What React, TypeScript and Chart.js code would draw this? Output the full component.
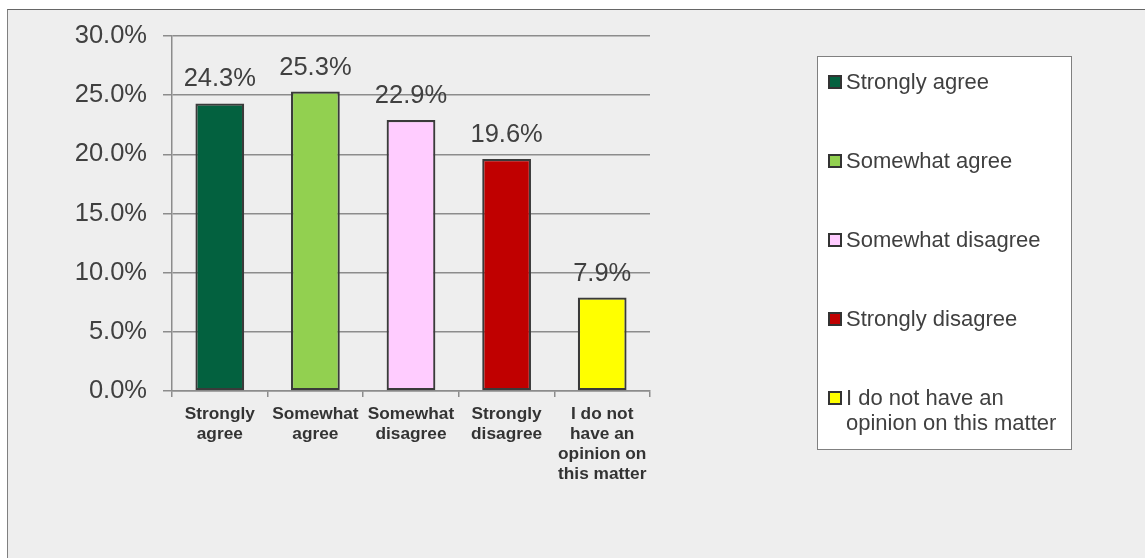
import React, { useEffect, useRef } from 'react';
import { Chart, registerables } from 'chart.js';

Chart.register(...registerables);

const categories: string[][] = [
  ['Strongly', 'agree'],
  ['Somewhat', 'agree'],
  ['Somewhat', 'disagree'],
  ['Strongly', 'disagree'],
  ['I do not', 'have an', 'opinion on', 'this matter'],
];
const legendLines: string[][] = [
  ['Strongly agree'],
  ['Somewhat agree'],
  ['Somewhat disagree'],
  ['Strongly disagree'],
  ['I do not have an', 'opinion on this matter'],
];
const values: number[] = [24.3, 25.3, 22.9, 19.6, 7.9];
const barColors: string[] = ['#03613F', '#92D050', '#FFCCFF', '#C00000', '#FFFF00'];
const yMin = 0;
const yMax = 30;
const yStep = 5;

const FONT = '"Liberation Sans", Arial, Helvetica, sans-serif';
const TEXT = '#404040';
const GRID = '#8c8c8c';

const valueLabelPlugin = {
  id: 'valueLabels',
  afterDatasetsDraw(chart: any) {
    const ctx = chart.ctx;
    const meta = chart.getDatasetMeta(0);
    ctx.save();
    ctx.font = `25.5px ${FONT}`;
    ctx.fillStyle = TEXT;
    ctx.textAlign = 'center';
    ctx.textBaseline = 'alphabetic';
    meta.data.forEach((el: any, i: number) => {
      ctx.fillText(values[i].toFixed(1) + '%', el.x, el.y - 17);
    });
    ctx.restore();
  },
};

const boxLegendPlugin = {
  id: 'boxLegend',
  afterDraw(chart: any) {
    const ctx = chart.ctx;
    const left = 817;
    const top = 56;
    const right = 1072;
    const bottom = 450;
    ctx.save();
    ctx.fillStyle = '#ffffff';
    ctx.fillRect(left, top, right - left, bottom - top);
    ctx.strokeStyle = '#808080';
    ctx.lineWidth = 1;
    ctx.strokeRect(left + 0.5, top + 0.5, right - left - 1, bottom - top - 1);
    ctx.font = `22px ${FONT}`;
    ctx.textBaseline = 'middle';
    ctx.textAlign = 'left';
    legendLines.forEach((lines, i) => {
      const cy = 82.5 + i * 79;
      ctx.fillStyle = barColors[i];
      ctx.fillRect(829, cy - 6.5, 12, 12);
      ctx.strokeStyle = '#333333';
      ctx.lineWidth = 2;
      ctx.strokeRect(829, cy - 6.5, 12, 12);
      ctx.fillStyle = TEXT;
      lines.forEach((t, j) => {
        ctx.fillText(t, 846, cy + j * 25.5);
      });
    });
    ctx.restore();
  },
};

export default function App() {
  const ref = useRef<HTMLCanvasElement | null>(null);
  useEffect(() => {
    if (!ref.current) return;
    const chart = new Chart(ref.current, {
      type: 'bar',
      data: {
        labels: categories,
        datasets: [
          {
            data: values,
            backgroundColor: barColors,
            borderColor: '#3a3a3a',
            borderWidth: 2.2,
            borderSkipped: false,
            categoryPercentage: 1,
            barPercentage: 0.51,
          },
        ],
      },
      options: {
        animation: false,
        responsive: false,
        devicePixelRatio: 1,
        layout: { padding: { left: 72, top: 36, right: 495, bottom: 47 } },
        plugins: {
          legend: { display: false },
          tooltip: { enabled: false },
        },
        scales: {
          x: {
            grid: {
              display: true,
              drawOnChartArea: false,
              drawTicks: true,
              tickLength: 6,
              color: GRID,
              lineWidth: 1.5,
              offset: true,
            },
            border: { display: true, color: GRID, width: 1.5 },
            ticks: {
              color: '#333333',
              padding: 7,
              maxRotation: 0,
              autoSkip: false,
              font: { family: FONT, size: 17.3, weight: 'bold', lineHeight: '20px' },
            },
            afterFit: (scale: any) => {
              scale.height = 120;
            },
          },
          y: {
            min: yMin,
            max: yMax,
            ticks: {
              stepSize: yStep,
              color: TEXT,
              padding: 16,
              font: { family: FONT, size: 25.5 },
              callback: (v: any) => Number(v).toFixed(1) + '%',
            },
            grid: {
              color: GRID,
              lineWidth: 1.5,
              tickLength: 9,
              drawTicks: true,
            },
            border: { display: true, color: GRID, width: 1.5 },
            afterFit: (scale: any) => {
              scale.width = 100;
            },
          },
        },
      },
      plugins: [valueLabelPlugin, boxLegendPlugin],
    });
    return () => chart.destroy();
  }, []);

  return (
    <div style={{ position: 'fixed', left: 0, top: 0, width: 1145, height: 558, overflow: 'hidden', background: '#ffffff' }}>
      <div
        style={{
          position: 'absolute',
          left: 7,
          top: 9,
          width: 1200,
          height: 600,
          background: '#eeeeee',
          borderLeft: '1px solid #808080',
          borderTop: '1px solid #666666',
        }}
      />
      <canvas ref={ref} width={1145} height={558} style={{ position: 'absolute', left: 0, top: 0, width: 1145, height: 558 }} />
    </div>
  );
}
